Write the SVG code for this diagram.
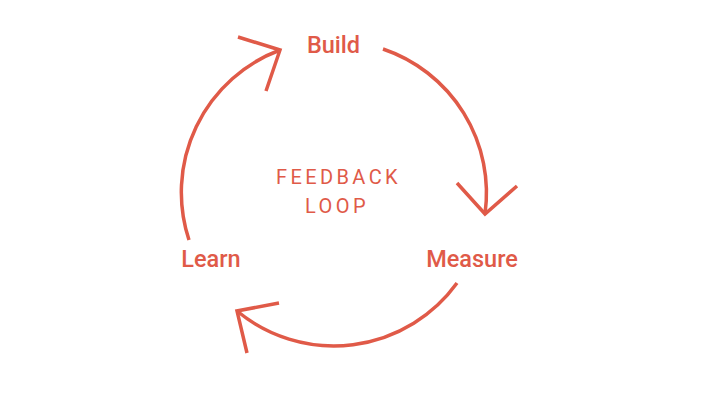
<svg xmlns="http://www.w3.org/2000/svg" width="710" height="416" viewBox="0 0 710 416">
<style>
.c{fill:none;stroke:#E05A48;stroke-width:3.5;stroke-linecap:butt;stroke-linejoin:miter}
.l{font-family:Roboto,"Liberation Sans",sans-serif;font-weight:500;font-size:23.5px;fill:#E05A48;text-anchor:middle}
.t{font-family:Roboto,"Liberation Sans",sans-serif;font-weight:400;font-size:20px;fill:#E05A48;text-anchor:middle;letter-spacing:3.4px}
</style>
<rect width="710" height="416" fill="#fff"/>
<g id="connectors">
<path class="c" d="M383,49 A152,152 0 0 1 485,214"/>
<polyline class="c" points="457,183 485,214 517,186"/>
<path class="c" d="M457,283 A152,152 0 0 1 237,311"/>
<polyline class="c" points="279,303 237,311 247,353"/>
<path class="c" d="M189,240 A152,152 0 0 1 280,50"/>
<polyline class="c" points="238,37 280,50 266,91"/>
</g>
<g id="build"><text class="l" x="333.5" y="52.5">Build</text></g>
<g id="measure"><text class="l" x="472" y="267">Measure</text></g>
<g id="learn"><text class="l" x="211" y="267">Learn</text></g>
<g id="center"><text class="t" x="338.5" y="184">FEEDBACK</text><text class="t" x="337" y="213">LOOP</text></g>
</svg>
